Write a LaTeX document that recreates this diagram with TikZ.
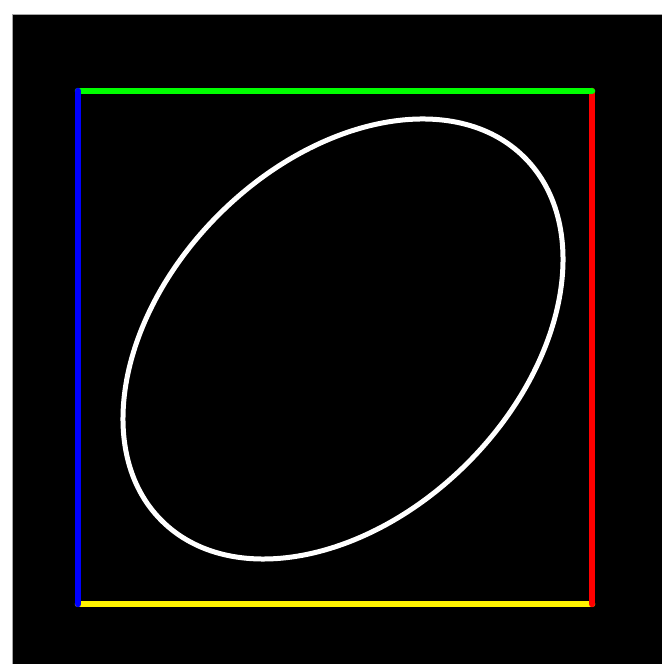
\documentclass[tikz,border=0pt]{standalone}
\begin{document}
\begin{tikzpicture}[x=1pt,y=1pt,
  side/.style={line width=6.5pt,line cap=round},
  ring/.style={draw=white,line width=5pt}]
\useasboundingbox (0,0) rectangle (662,664);
\fill[white] (0,0) rectangle (662,664);
\fill[black] (12,0) rectangle (662,650);
\draw[gray!70,line width=0.8pt] (12,0) -- (12,650) -- (662,650);
\coordinate (tl) at (78,573);
\coordinate (tr) at (592,573);
\coordinate (bl) at (78,60);
\coordinate (br) at (592,60);
\coordinate (c) at (343,325);
\draw[side,yellow] (bl) -- (br);
\draw[side,red] (br) -- (tr);
\draw[side,green] (tl) -- (tr);
\draw[side,blue] (tl) -- (bl);
\draw[ring,rotate around={45:(c)}] (c) ellipse [x radius=256.7pt, y radius=175.8pt];
\end{tikzpicture}
\end{document}
